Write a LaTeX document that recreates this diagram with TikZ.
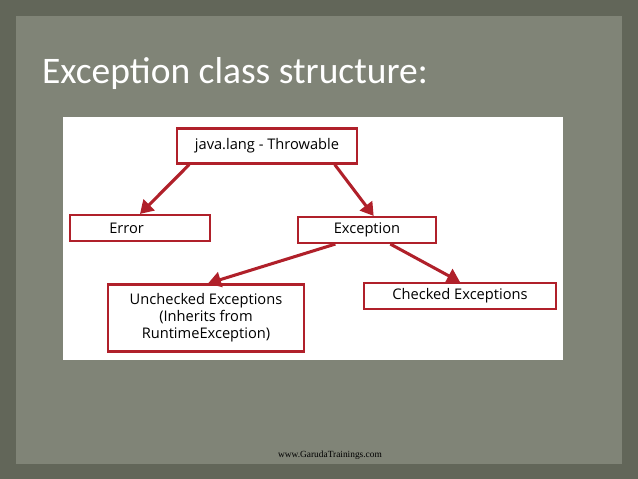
\documentclass[tikz,border=0pt]{standalone}
\usepackage{fontspec}
\setmainfont{Open Sans}
\newfontfamily\titlefont{Carlito}
\newfontfamily\footfont{Liberation Serif}
\usetikzlibrary{positioning,arrows.meta}
\definecolor{slate}{HTML}{626659}
\definecolor{panel}{HTML}{808477}
\definecolor{boxred}{HTML}{B0202A}

\begin{document}
\begin{tikzpicture}[x=0.03cm,y=-0.03cm,
    cls/.style={draw=boxred,line width=1.8pt,fill=white,font=\fontsize{12.5}{14.5}\selectfont,align=center,inner sep=0pt},
    link/.style={draw=boxred,line width=2.6pt,-{Triangle[length=11pt,width=13pt]}}]
        \fill[slate] (0,0) rectangle (638,479);
        \fill[panel] (16,16) rectangle (622,464);
        \fill[white] (63,117) rectangle (563,360);
        \node[anchor=west,text=white,font=\titlefont\fontsize{32}{36}\selectfont] (title) at (38,74) {Exception class structure:};
        \node[cls,minimum width=5.4cm,minimum height=1.05cm] (throwable) at (267,146) {java.lang - Throwable};
        \node[cls,minimum width=4.2cm,minimum height=0.78cm] (error) at (140,228) {\hspace*{-0.8cm}Error};
        \node[cls,minimum width=4.14cm,minimum height=0.78cm] (exception) at (367,230) {Exception};
        \node[cls,minimum width=5.88cm,minimum height=2.01cm] (unchecked) at (206,318) {Unchecked Exceptions\\(Inherits from\\RuntimeException)};
        \node[cls,minimum width=5.76cm,minimum height=0.78cm] (checked) at (460,296) {Checked Exceptions};
        \node[font=\footfont\fontsize{8}{9}\selectfont] (site) at (330,455) {www.GarudaTrainings.com};
        \draw[link] ([xshift=0.4cm]throwable.south west) -- (error.north);
        \draw[link] ([xshift=-0.7cm]throwable.south east) -- ([xshift=0.2cm]exception.north);
        \draw[link] ([xshift=-0.95cm]exception.south) -- ([xshift=0.06cm]unchecked.north);
        \draw[link] ([xshift=0.7cm]exception.south) -- (checked.north);
\end{tikzpicture}
\end{document}
